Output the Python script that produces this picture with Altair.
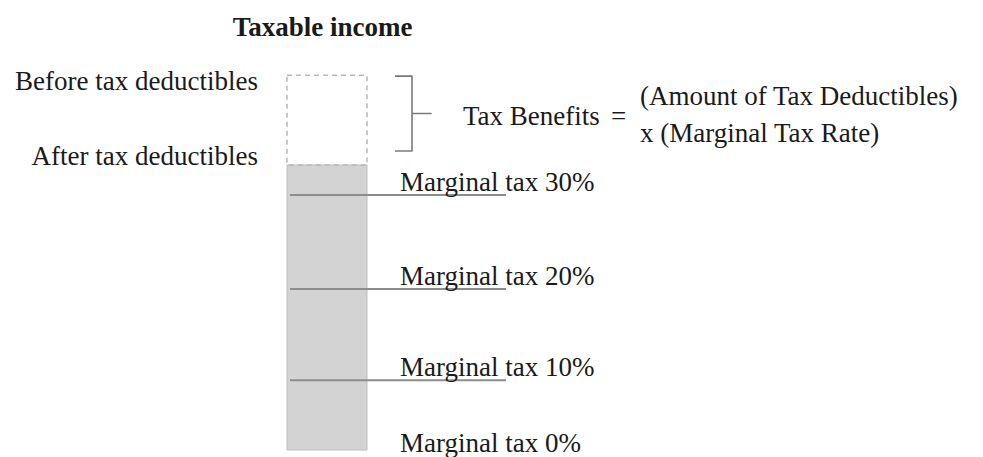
import altair as alt
import pandas as pd

# ---- data (income levels in arbitrary units) ----
rates = [0, 10, 20, 30]                 # marginal tax rates (%)
thresholds = [0, 24.5, 56.5, 89.5]      # income level where each rate starts
income_after = 100                      # taxable income after deductibles
income_before = 131.5                   # taxable income before deductibles

title_text = "Taxable income"
before_label = "Before tax deductibles"
after_label = "After tax deductibles"
eq_left = "Tax Benefits"
eq_sign = "="
eq_right = ["(Amount of Tax Deductibles)", "x (Marginal Tax Rate)"]

# ---- layout / style ----
FONT = "Liberation Serif"
FS = 27
TXT = "#1a1a1a"
W, H = 967, 449
PX = 2.85            # pixels per income unit
BASE = 450           # page pixel of income 0
bar_x0, bar_x1 = 287, 367
rule_x0, rule_x1 = 290, 506
label_x = 400
brace_x_left, brace_x_mid, brace_x_tip = 395, 412, 431
brace_top, brace_bottom = 131.2, 104.9

X = alt.Scale(domain=[8, 8 + W], nice=False, zero=False)
Y = alt.Scale(domain=[(BASE - 8 - H) / PX, (BASE - 8) / PX], nice=False, zero=False)

def xe(f="x"):
    return alt.X(f"{f}:Q", scale=X, axis=None)

def ye(f="y"):
    return alt.Y(f"{f}:Q", scale=Y, axis=None)

# bar (after deductibles)
bar_df = pd.DataFrame({"x": [bar_x0], "x2": [bar_x1], "y": [0], "y2": [income_after]})
bar = alt.Chart(bar_df).mark_rect(fill="#d3d3d3", stroke="#bdbdbd", strokeWidth=1).encode(
    x=xe(), x2="x2:Q", y=ye(), y2="y2:Q")

# dashed part (before deductibles)
dash_df = pd.DataFrame({"x": [bar_x0], "x2": [bar_x1], "y": [income_after], "y2": [income_before]})
dashed = alt.Chart(dash_df).mark_rect(fill="transparent", stroke="#b8b8b8", strokeWidth=1.5,
                                      strokeDash=[5, 4]).encode(
    x=xe(), x2="x2:Q", y=ye(), y2="y2:Q")

# threshold rules
rule_df = pd.DataFrame({"y": thresholds[1:], "x": rule_x0, "x2": rule_x1})
rules = alt.Chart(rule_df).mark_rule(color="#8c8c8c", strokeWidth=2).encode(
    x=xe(), x2="x2:Q", y=ye())

# marginal labels
lab_df = pd.DataFrame({"y": thresholds, "rate": rates,
                       "text": [f"Marginal tax {r}%" for r in rates], "x": label_x})
base_txt = dict(font=FONT, fontSize=FS, color=TXT, align="left", baseline="alphabetic")
labels_hi = alt.Chart(lab_df).transform_filter("datum.rate > 0").mark_text(dy=-4, **base_txt).encode(
    x=xe(), y=ye(), text="text:N")
labels_lo = alt.Chart(lab_df).transform_filter("datum.rate == 0").mark_text(dy=2, **base_txt).encode(
    x=xe(), y=ye(), text="text:N")

# title
title_df = pd.DataFrame({"x": [322.5], "y": [145.3], "text": [title_text]})
title = alt.Chart(title_df).mark_text(font=FONT, fontSize=FS, fontWeight="bold", color=TXT,
                                      align="center", baseline="alphabetic").encode(
    x=xe(), y=ye(), text="text:N")

# left labels
left_df = pd.DataFrame({"x": [258, 258], "y": [126.3, income_after], "text": [before_label, after_label]})
left = alt.Chart(left_df).mark_text(font=FONT, fontSize=FS, color=TXT, align="right",
                                    baseline="alphabetic").encode(
    x=xe(), y=ye(), text="text:N")

# equation
eq_df = pd.DataFrame({"x": [463, 640, 640], "y": [114.0, 121.1, 108.1],
                      "text": [eq_left] + eq_right})
eq = alt.Chart(eq_df).mark_text(font=FONT, fontSize=FS, color=TXT, align="left",
                                baseline="alphabetic").encode(
    x=xe(), y=ye(), text="text:N")
sign_df = pd.DataFrame({"x": [618.5], "y": [114.0], "text": [eq_sign]})
sign = alt.Chart(sign_df).mark_text(font=FONT, fontSize=FS, color=TXT, align="center",
                                    baseline="alphabetic").encode(
    x=xe(), y=ye(), text="text:N")

# curly brace
brace_mid = (brace_top + brace_bottom) / 2
brace_df = pd.DataFrame({
    "x": [brace_x_left, brace_x_mid, brace_x_mid, brace_x_tip, brace_x_mid, brace_x_mid, brace_x_left],
    "y": [brace_top, brace_top, brace_mid, brace_mid, brace_mid, brace_bottom, brace_bottom],
    "o": list(range(7)),
})
brace = alt.Chart(brace_df).mark_line(color="#7a7a7a", strokeWidth=1.6, strokeJoin="round").encode(
    x=xe(), y=ye(), order="o:Q")

chart = alt.layer(bar, dashed, rules, brace, labels_hi, labels_lo, title, left, eq, sign).properties(
    width=W, height=H, padding=0,
    autosize=alt.AutoSizeParams(type="none"),
).configure_view(stroke=None)

chart.save("out.html", embed_options={"renderer": "svg", "actions": False})
